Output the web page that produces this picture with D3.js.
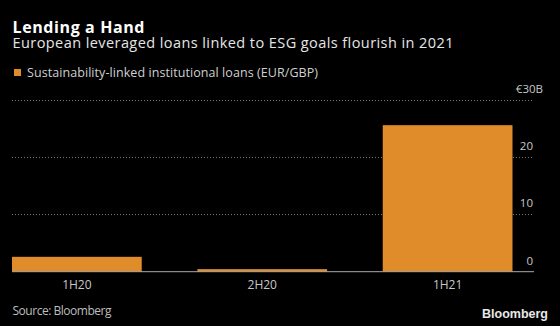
<!DOCTYPE html>
<html><head><meta charset="utf-8">
<script src="https://cdn.jsdelivr.net/npm/d3@7"></script>
<style>
html,body{margin:0;padding:0;background:#000;}
svg{display:block;}
</style></head>
<body>
<script>
const categories = ["1H20", "2H20", "1H21"];
const values = [2.6, 0.45, 25.6];
const yTicks = [0, 10, 20, 30];
const yTickLabels = ["0", "10", "20", "€30B"];
const seriesName = "Sustainability-linked institutional loans (EUR/GBP)";

const W = 560, H = 326;
const font = "'Open Sans', 'DejaVu Sans', sans-serif";
const orange = "#e08c2b";
const svg = d3.select("body").append("svg").attr("width", W).attr("height", H)
  .style("background", "#000");

// adjust letter spacing so a text spans a target width
function fit(sel, target) {
  const node = sel.node();
  const len = node.getComputedTextLength();
  const n = node.textContent.length;
  if (n > 1) sel.attr("letter-spacing", ((target - len) / (n - 1)).toFixed(3));
  return sel;
}

const x0 = 12, x1 = 512.5, axisEnd = 534;
const x = d3.scaleBand().domain(categories).range([x0, x1]).paddingInner(0.3).paddingOuter(0);
const y = d3.scaleLinear().domain([0, 30]).range([271.7, 100]);

// title
fit(svg.append("text").attr("x", 12.5).attr("y", 32.5).text("Lending a Hand")
  .attr("fill", "#fff").attr("font-family", font).attr("font-weight", 700).attr("font-size", 16), 132);
fit(svg.append("text").attr("x", 12.5).attr("y", 48).text("European leveraged loans linked to ESG goals flourish in 2021")
  .attr("fill", "#e6e6e6").attr("font-family", font).attr("font-size", 14.5), 441);

// legend
svg.append("rect").attr("x", 14).attr("y", 69).attr("width", 7).attr("height", 7).attr("fill", orange);
fit(svg.append("text").attr("x", 27).attr("y", 77).text(seriesName)
  .attr("fill", "#cfcfcf").attr("font-family", font).attr("font-size", 12.5), 291);

// grid lines
svg.append("g").selectAll("line").data(yTicks.filter(d => d > 0)).join("line")
  .attr("x1", x0).attr("x2", axisEnd)
  .attr("y1", d => Math.round(y(d)) + 0.5).attr("y2", d => Math.round(y(d)) + 0.5)
  .attr("stroke", "#777").attr("stroke-width", 1).attr("stroke-dasharray", "1,2");

// y tick labels
svg.append("g").selectAll("text").data(yTicks).join("text")
  .attr("x", d => d === 30 ? axisEnd + 9 : axisEnd - 1).attr("y", d => y(d) - 7)
  .attr("text-anchor", "end")
  .text((d, i) => yTickLabels[i])
  .attr("fill", "#c8c8c8").attr("font-family", font).attr("font-size", 11.5);

// bars
svg.append("g").selectAll("rect").data(categories).join("rect")
  .attr("x", d => x(d)).attr("width", x.bandwidth())
  .attr("y", (d, i) => y(values[i])).attr("height", (d, i) => y(0) - y(values[i]))
  .attr("fill", orange);

// baseline
svg.append("line").attr("x1", x0).attr("x2", axisEnd)
  .attr("y1", y(0)).attr("y2", y(0)).attr("stroke", "#aaa").attr("stroke-width", 1);

// x axis labels
const xAxis = d3.axisBottom(x).tickSize(0).tickPadding(9);
const gx = svg.append("g").attr("transform", `translate(0,${y(0)})`).call(xAxis);
gx.select(".domain").remove();
gx.selectAll("text").attr("fill", "#c8c8c8").attr("font-family", font).attr("font-size", 12);

// footer
fit(svg.append("text").attr("x", 12.5).attr("y", 315).text("Source: Bloomberg")
  .attr("fill", "#bdbdbd").attr("font-family", font).attr("font-size", 12), 99);
svg.append("text").attr("x", 548).attr("y", 318).attr("text-anchor", "end").text("Bloomberg")
  .attr("fill", "#e8e8e8").attr("font-family", "'Liberation Sans', Arial, sans-serif").attr("font-weight", 700).attr("font-size", 12.5);
</script>
</body></html>
